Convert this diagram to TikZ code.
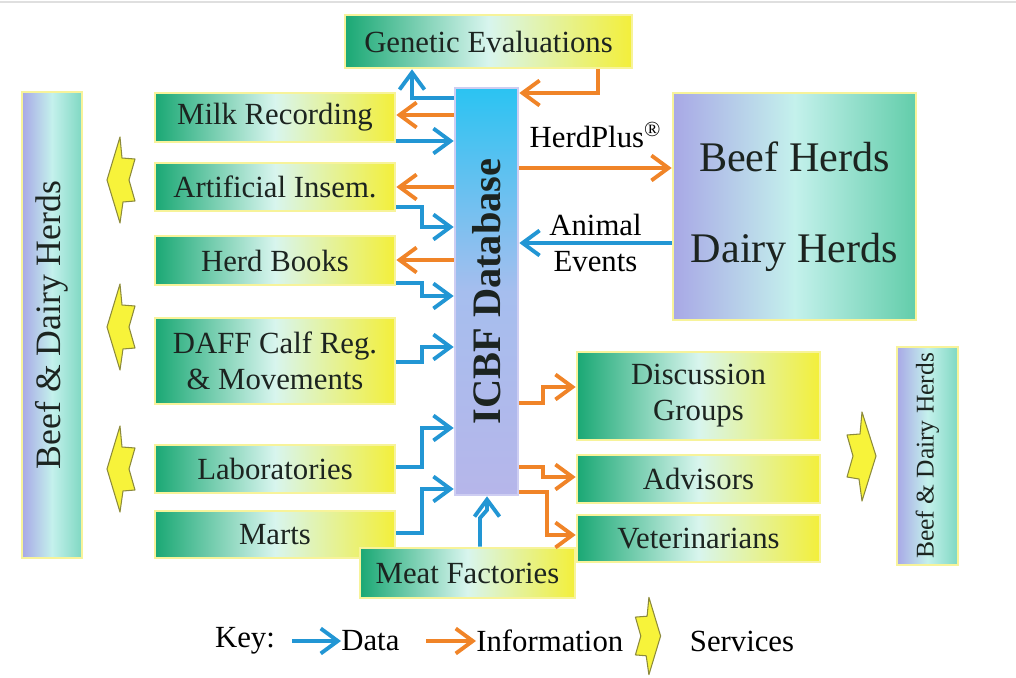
\documentclass[tikz,border=0pt]{standalone}
\usepackage{fontspec}
\setmainfont{Liberation Serif}
\usetikzlibrary{arrows.meta}
\definecolor{ink}{HTML}{1C2420}
\definecolor{glow}{HTML}{F7F39A}
\definecolor{boxgreen}{HTML}{1AA874}
\definecolor{boxmint}{HTML}{D8F5EE}
\definecolor{boxyellow}{HTML}{F3EF3A}
\definecolor{lav}{HTML}{A8A8E6}
\definecolor{aqua}{HTML}{C4F1EC}
\definecolor{teal}{HTML}{62CDAA}
\definecolor{sideteal}{HTML}{7FD8C2}
\definecolor{icbftop}{HTML}{2BC3F2}
\definecolor{icbfmid}{HTML}{A6BEEE}
\definecolor{icbfbot}{HTML}{B6B6EA}
\definecolor{icbfedge}{HTML}{CDCDF2}
\definecolor{datablue}{HTML}{2296D4}
\definecolor{infoorange}{HTML}{F08428}
\definecolor{chevfill}{HTML}{F7F33A}
\definecolor{chevedge}{HTML}{8C8A3C}

\begin{document}
\begin{tikzpicture}[x=0.2mm,y=-0.2mm,
 font=\fontsize{17.5}{20.5}\selectfont,
 box/.style={draw=glow,line width=1.5pt,left color=boxgreen,right color=boxyellow,middle color=boxmint,text=ink,align=center,inner sep=0pt},
 herdbox/.style={box,left color=lav,right color=teal,middle color=aqua},
 sidebox/.style={box,left color=lav,right color=sideteal,middle color=aqua},
 icbfbox/.style={draw=icbfedge,line width=1.5pt,top color=icbftop,bottom color=icbfbot,middle color=icbfmid,text=ink,inner sep=0pt},
 data/.style={-{Straight Barb[length=3.4mm,width=5mm]},line width=2.2pt,draw=datablue},
 info/.style={data,draw=infoorange},
 service/.style={fill=chevfill,draw=chevedge,line width=0.6pt,line join=round}]
\useasboundingbox (0,0) rectangle (1016,678);
\draw[gray!25,line width=0.8pt] (0,2) -- (1016,2);

% database and the boxes round it
\node[icbfbox,minimum width=12.6mm,minimum height=81.4mm] (icbf) at (486.5,291.5) {\rotatebox{90}{\fontsize{23}{27}\selectfont\bfseries ICBF Database}};
\node[box,minimum width=57.4mm,minimum height=10.6mm] (gen) at (488.5,41.5) {Genetic Evaluations};
\node[box,minimum width=48mm,minimum height=9.8mm] (milk) at (275,117.5) {Milk Recording};
\node[box,minimum width=48mm,minimum height=9.6mm] (ai) at (275,187) {Artificial Insem.};
\node[box,minimum width=48mm,minimum height=9.8mm] (books) at (275,260.5) {Herd Books};
\node[box,minimum width=48mm,minimum height=17.2mm] (daff) at (275,361) {DAFF Calf Reg.\\\& Movements};
\node[box,minimum width=48mm,minimum height=9.6mm] (labs) at (275,469) {Laboratories};
\node[box,minimum width=48mm,minimum height=9.4mm] (marts) at (275,534.5) {Marts};
\node[box,minimum width=43mm,minimum height=10mm] (meat) at (467.5,573) {Meat Factories};
\node[herdbox,minimum width=48.6mm,minimum height=45.4mm,font=\fontsize{24}{52}\selectfont] (herds) at (794.5,206.5) {Beef Herds\\Dairy Herds};
\node[box,minimum width=48.6mm,minimum height=17.6mm] (disc) at (698.5,396) {Discussion\\Groups};
\node[box,minimum width=48.6mm,minimum height=9.6mm] (adv) at (698.5,479) {Advisors};
\node[box,minimum width=48.6mm,minimum height=9.4mm] (vet) at (698.5,538.5) {Veterinarians};
\node[sidebox,minimum width=12mm,minimum height=93.2mm] (bdl) at (52,325) {\rotatebox{90}{\fontsize{20.3}{24}\selectfont Beef \& Dairy Herds}};
\node[sidebox,minimum width=12.2mm,minimum height=43.6mm] (bdr) at (927.5,456) {\rotatebox{90}{\fontsize{14.5}{17}\selectfont Beef \& Dairy Herds}};

% data and information flows
\draw[data] (icbf.west |- 0,98) -| (gen.south -| 412,0);
\draw[info] (gen.south -| 598,0) |- (icbf.east |- 0,93);
\draw[info] (icbf.west |- 0,115) -- (milk.east |- 0,115);
\draw[data] (milk.east |- 0,141) -- (icbf.west |- 0,141);
\draw[info] (icbf.west |- 0,187) -- (ai.east |- 0,187);
\draw[data] (ai.east |- 0,207) -| (422,227) -- (icbf.west |- 0,227);
\draw[info] (icbf.west |- 0,260) -- (books.east |- 0,260);
\draw[data] (books.east |- 0,283) -| (422,296) -- (icbf.west |- 0,296);
\draw[data] (daff.east |- 0,362) -| (422,347) -- (icbf.west |- 0,347);
\draw[data] (labs.east |- 0,467) -| (422,428) -- (icbf.west |- 0,428);
\draw[data] (marts.east |- 0,533) -| (422,489) -- (icbf.west |- 0,489);
\draw[data] (meat.north -| 480,0) -- (480,518) -- (487,510) -- (icbf.south -| 487,0);
\draw[info] (icbf.east |- 0,168) -- (herds.west |- 0,168) node[midway,above=2.5mm] (hp) {HerdPlus\textsuperscript{®}};
\draw[data] (herds.west |- 0,243) -- (icbf.east |- 0,243) node[midway,align=center] (ev) {Animal\\Events};
\draw[info] (icbf.east |- 0,403) -| (543,387) -- (disc.west |- 0,387);
\draw[info] (icbf.east |- 0,467) -| (543,477) -- (adv.west |- 0,477);
\draw[info] (icbf.east |- 0,492) -| (547,535) -- (vet.west |- 0,535);

% services
\foreach \cy in {180,327,469}
  \draw[service,shift={(121,\cy)}] (-1,-43) -- (1,-22) -- (14,-21) -- (8,0) -- (14,21) -- (2,22) -- (-1,43) -- (-14,0) -- cycle;
\draw[service,shift={(861,456)},xscale=-1] (-1,-44) -- (1,-22) -- (14,-21) -- (8,0) -- (14,21) -- (2,23) -- (-1,45) -- (-15,0) -- cycle;

% key
\node (key) at (245,641) {Key:};
\coordinate (kd) at (292,641);
\node[anchor=west,inner sep=0pt] (kdata) at (341,641) {Data};
\draw[data] (kd) -- (kdata.west);
\coordinate (ki) at (426,641);
\node[anchor=west,inner sep=0pt] (kinfo) at (476,641) {Information};
\draw[info] (ki) -- (kinfo.west);
\draw[service,shift={(648,636)},xscale=-0.9,yscale=0.9] (-1,-43) -- (1,-22) -- (14,-21) -- (8,0) -- (14,21) -- (2,22) -- (-1,43) -- (-14,0) -- cycle;
\node (ksvc) at (742,641) {Services};
\end{tikzpicture}
\end{document}
